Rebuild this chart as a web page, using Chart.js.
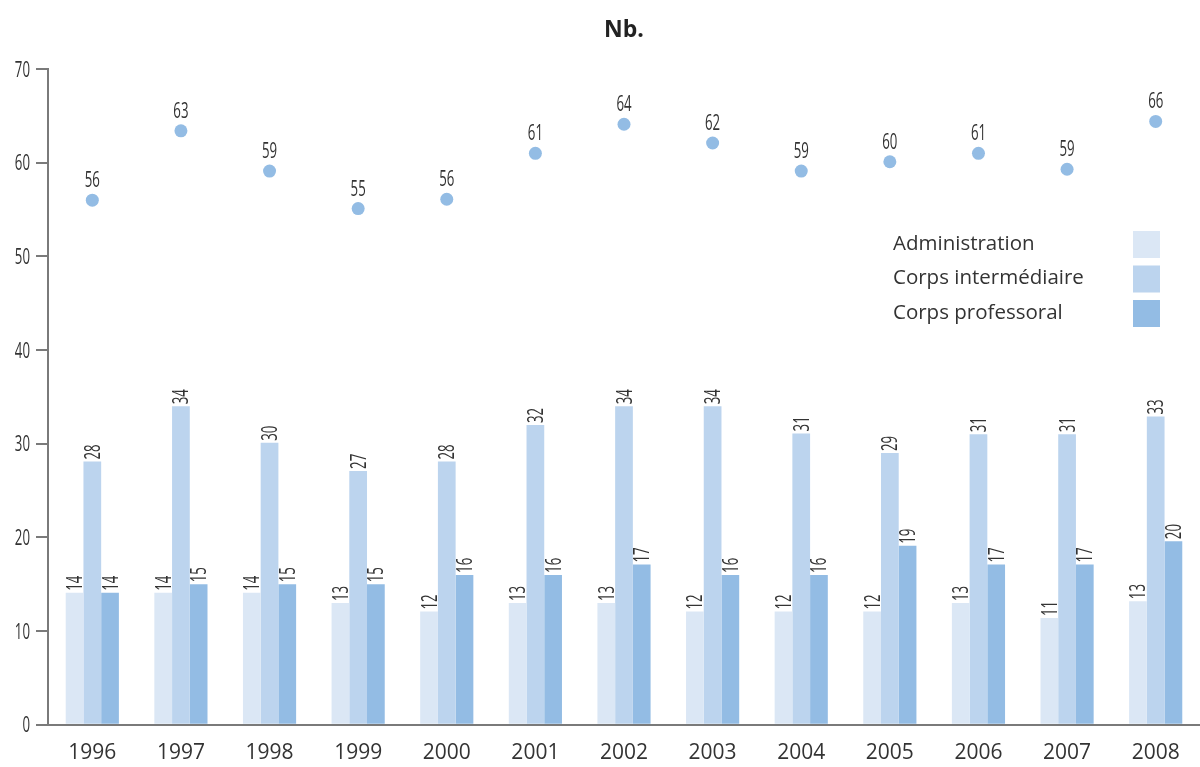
<!DOCTYPE html>
<html>
<head>
<meta charset="utf-8">
<script src="https://cdn.jsdelivr.net/npm/chart.js@4"></script>
<style>
  html, body { margin: 0; padding: 0; background: #fff; }
  #wrap { width: 1200px; height: 767px; }
</style>
</head>
<body>
<div id="wrap"><canvas id="nbChart" width="1200" height="767"></canvas></div>
<script>
// ---- data ----
const YEARS = ['1996', '1997', '1998', '1999', '2000', '2001', '2002', '2003', '2004', '2005', '2006', '2007', '2008'];
const ADMIN = [14.1, 14.1, 14.1, 13.0, 12.1, 13.0, 13.0, 12.1, 12.1, 12.1, 13.0, 11.4, 13.2];
const INTER = [28.1, 34.0, 30.1, 27.1, 28.1, 32.0, 34.0, 34.0, 31.1, 29.0, 31.0, 31.0, 32.9];
const PROF = [14.1, 15.0, 15.0, 15.0, 16.0, 16.0, 17.1, 16.0, 16.0, 19.1, 17.1, 17.1, 19.6];
const TOTAL = [56.0, 63.4, 59.1, 55.1, 56.1, 61.0, 64.1, 62.1, 59.1, 60.1, 61.0, 59.3, 64.4];
// printed labels (as shown on the chart)
const ADMIN_LBL = ['14', '14', '14', '13', '12', '13', '13', '12', '12', '12', '13', '11', '13'];
const INTER_LBL = ['28', '34', '30', '27', '28', '32', '34', '34', '31', '29', '31', '31', '33'];
const PROF_LBL = ['14', '15', '15', '15', '16', '16', '17', '16', '16', '19', '17', '17', '20'];
const TOTAL_LBL = ['56', '63', '59', '55', '56', '61', '64', '62', '59', '60', '61', '59', '66'];
const Y_TICKS = [0, 10, 20, 30, 40, 50, 60, 70];

const COLORS = { admin: '#dbe7f5', inter: '#bcd4ee', prof: '#93bce4' };
const TEXT = '#333333';
const AXIS = '#7a7a7a';
const FONT = '"Open Sans", "Noto Sans", sans-serif';
const SQUEEZE = 0.63; // the source uses a condensed face, fake it

function narrowText(ctx, txt, x, y, align) {
  ctx.save();
  ctx.translate(x, y);
  ctx.scale(SQUEEZE, 1);
  ctx.textAlign = align;
  ctx.fillText(txt, 0, 0);
  ctx.restore();
}

// value labels, y labels, title and legend, drawn by hand
const decorPlugin = {
  id: 'decor',
  afterDatasetsDraw(chart) {
    const ctx = chart.ctx;
    const area = chart.chartArea;
    ctx.save();
    ctx.fillStyle = TEXT;
    ctx.font = '21px ' + FONT;
    ctx.textBaseline = 'alphabetic';

    // y tick labels
    const yScale = chart.scales.y;
    Y_TICKS.forEach(v => {
      narrowText(ctx, String(v), 30, yScale.getPixelForValue(v) + 7.5, 'right');
    });

    // rotated labels over the bars
    chart.data.datasets.forEach((ds, i) => {
      if (ds.type === 'line') return;
      chart.getDatasetMeta(i).data.forEach((bar, j) => {
        ctx.save();
        ctx.translate(bar.x + 7.5, bar.y - 2);
        ctx.rotate(-Math.PI / 2);
        narrowText(ctx, ds.valueLabels[j], 0, 0, 'left');
        ctx.restore();
      });
    });

    // labels over the dots
    chart.data.datasets.forEach((ds, i) => {
      if (ds.type !== 'line') return;
      chart.getDatasetMeta(i).data.forEach((pt, j) => {
        narrowText(ctx, ds.valueLabels[j], pt.x, pt.y - 13, 'center');
      });
    });

    // title
    ctx.font = 'bold 23px ' + FONT;
    ctx.fillStyle = '#222';
    ctx.textAlign = 'center';
    ctx.textBaseline = 'middle';
    ctx.fillText('Nb.', (area.left + area.right) / 2, 30);

    // legend
    ctx.font = '20.5px ' + FONT;
    ctx.textAlign = 'left';
    ctx.fillStyle = TEXT;
    chart.data.datasets.forEach((ds, i) => {
      if (ds.type === 'line') return;
      const y = 244 + i * 34.5;
      ctx.fillText(ds.label, 893, y);
      ctx.fillStyle = ds.backgroundColor;
      ctx.fillRect(1133, y - 13, 27, 27);
      ctx.fillStyle = TEXT;
    });
    ctx.restore();
  }
};

new Chart(document.getElementById('nbChart'), {
  type: 'bar',
  data: {
    labels: YEARS,
    datasets: [
      { label: 'Administration', data: ADMIN, valueLabels: ADMIN_LBL, backgroundColor: COLORS.admin, order: 2 },
      { label: 'Corps intermédiaire', data: INTER, valueLabels: INTER_LBL, backgroundColor: COLORS.inter, order: 2 },
      { label: 'Corps professoral', data: PROF, valueLabels: PROF_LBL, backgroundColor: COLORS.prof, order: 2 },
      {
        type: 'line', label: 'Total', data: TOTAL, valueLabels: TOTAL_LBL,
        showLine: false, pointRadius: 6.5, pointHoverRadius: 6.5,
        pointBackgroundColor: COLORS.prof, pointBorderWidth: 0, order: 1
      }
    ]
  },
  options: {
    responsive: false,
    animation: false,
    layout: { autoPadding: false, padding: { top: 69, right: 0, bottom: -7, left: 0 } },
    datasets: { bar: { categoryPercentage: 0.6, barPercentage: 1.0, borderWidth: 0 } },
    scales: {
      x: {
        grid: { display: false },
        border: { display: true, color: AXIS, width: 2 },
        ticks: { color: TEXT, font: { family: FONT, size: 21 }, padding: 8 },
        afterFit: (scale) => { scale.paddingLeft = 0; scale.paddingRight = 0; }
      },
      y: {
        min: 0, max: 70,
        afterBuildTicks: (axis) => { axis.ticks = Y_TICKS.map(v => ({ value: v })); },
        grid: { display: true, drawOnChartArea: false, drawTicks: true, tickLength: 12, color: AXIS, lineWidth: 2 },
        border: { display: true, color: AXIS, width: 2 },
        ticks: { display: false },
        afterFit: (scale) => { scale.width = 48; scale.paddingTop = 0; scale.paddingBottom = 0; }
      }
    },
    plugins: {
      legend: { display: false },
      tooltip: { enabled: false }
    }
  },
  plugins: [decorPlugin]
});
</script>
</body>
</html>
